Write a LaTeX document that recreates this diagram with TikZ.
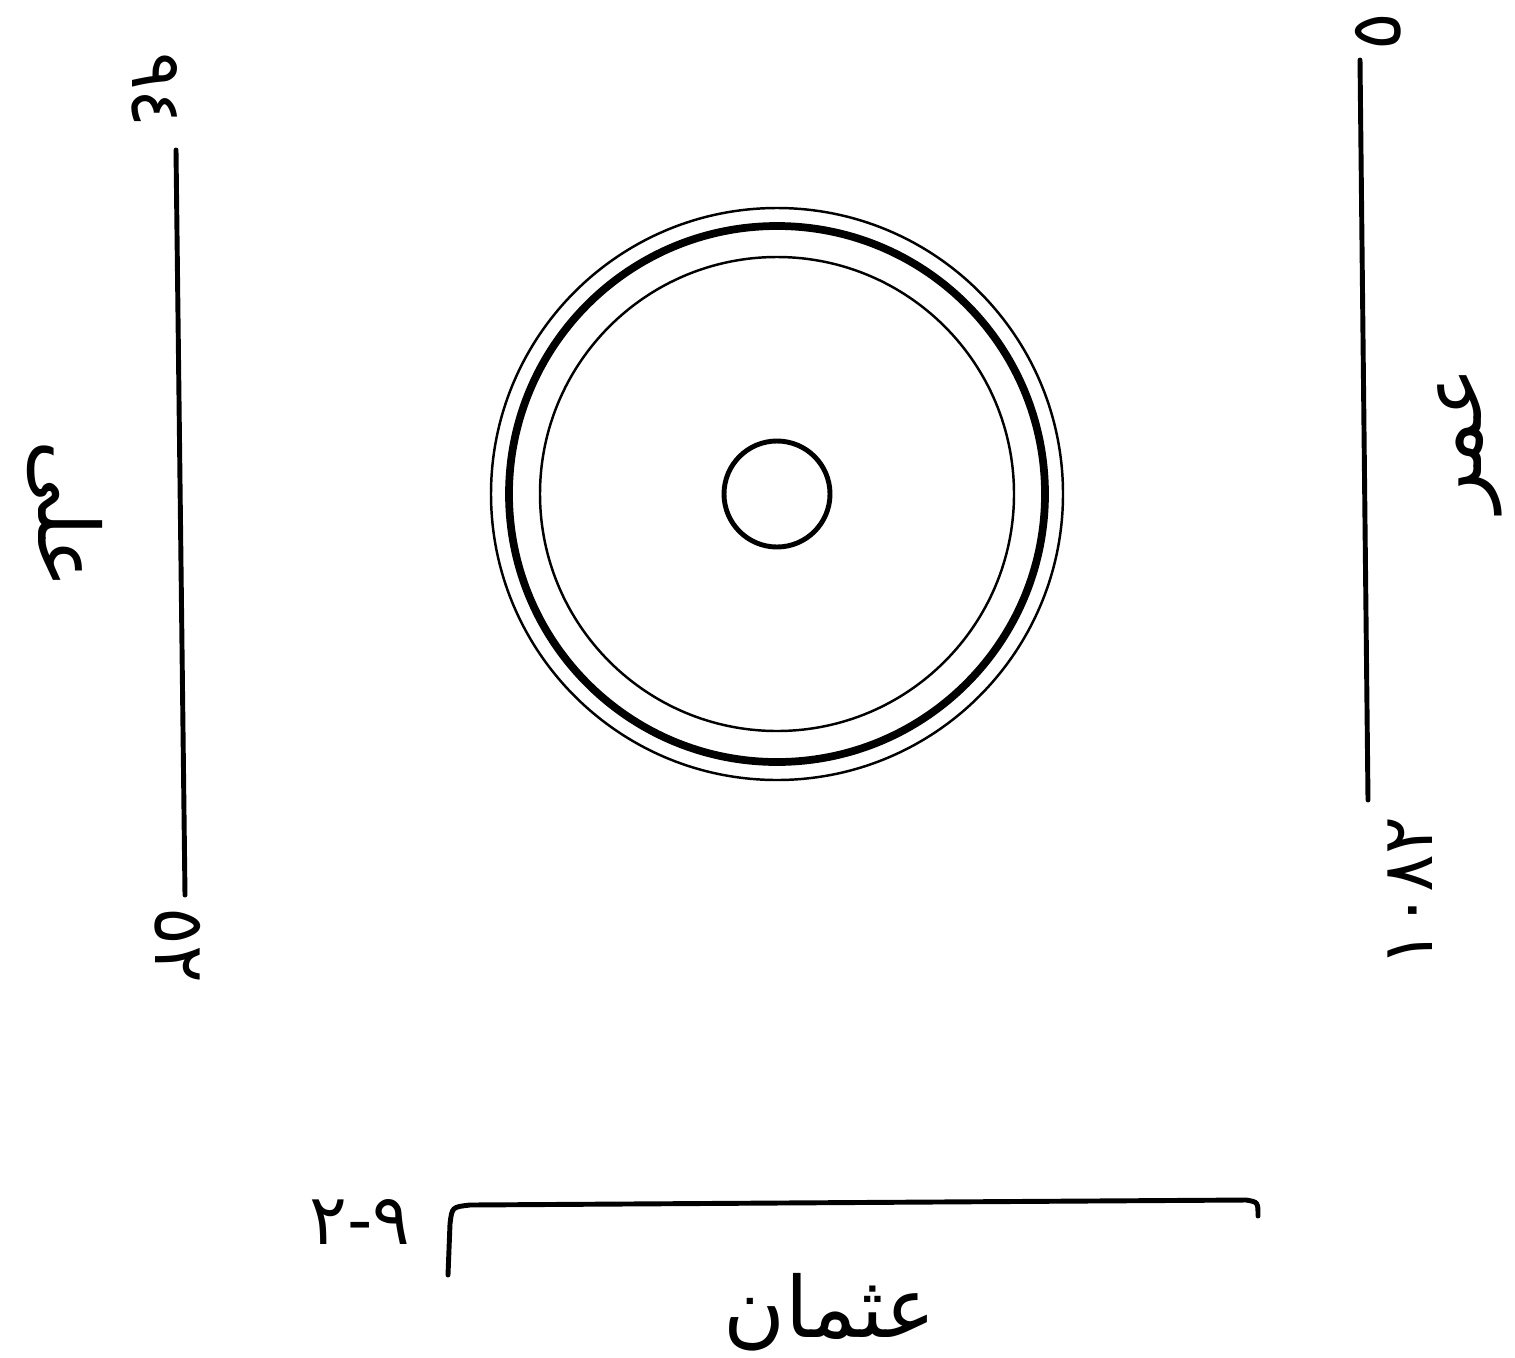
\documentclass[tikz,border=0pt]{standalone}
\usepackage{fontspec}
\newfontfamily\arabicfont[Script=Arabic]{DejaVu Sans}
\TeXXeTstate=1
\usetikzlibrary{positioning}

\begin{document}
\begin{tikzpicture}[
                x=0.01cm, y=-0.01cm,
                side/.style={line width=1.4pt, line cap=round},
                thinring/.style={line width=0.7pt},
                thickring/.style={line width=2.2pt},
                caliph/.style={font=\arabicfont\fontsize{24}{28}\selectfont, inner sep=0pt},
                numtext/.style={font=\arabicfont\fontsize{20}{24}\selectfont, inner sep=0pt}
            ]
            \useasboundingbox (0,0) rectangle (1515,1357);

            % les cercles du centre
            \coordinate (centre) at (777,494);
            \draw[thinring] (centre) circle[radius=286];
            \draw[thickring] (centre) circle[radius=268];
            \draw[thinring] (centre) circle[radius=237];
            \draw[side] (centre) circle[radius=53];

            % cote gauche
            \coordinate (gHaut) at (176,150);
            \coordinate (gBas) at (185,895);
            \draw[side] (gHaut) -- (gBas);
            \node[caliph, rotate=-90] (ali) at (65,515) {\beginR على\endR};
            \node[numtext, rotate=-90] (gNumHaut) at (155,90) {٩٤};
            \node[numtext, rotate=-90] (gNumBas) at (178,945) {٥٢};

            % cote droit
            \coordinate (dHaut) at (1360,60);
            \coordinate (dBas) at (1368,800);
            \draw[side] (dHaut) -- (dBas);
            \node[caliph, rotate=90] (omar) at (1470,440) {\beginR عمر\endR};
            \node[numtext, rotate=90] (dNumHaut) at (1378,32) {٥};
            \node[numtext, rotate=90] (dNumBas) at (1410,892) {١٠٨٢};

            % cote bas
            \coordinate (bGauche) at (448,1275);
            \coordinate (bA) at (470,1205);
            \coordinate (bB) at (1246,1200);
            \coordinate (bDroite) at (1258,1216);
            \draw[side] (bGauche) -- (450,1224) .. controls (452,1207) .. (bA)
                -- (bB) .. controls (1258,1202) .. (bDroite);
            \node[caliph] (othman) at (830,1312) {\beginR عثمان\endR};
            \node[numtext] (bNum) at (360,1222) {٩-٢};
        \end{tikzpicture}
\end{document}
